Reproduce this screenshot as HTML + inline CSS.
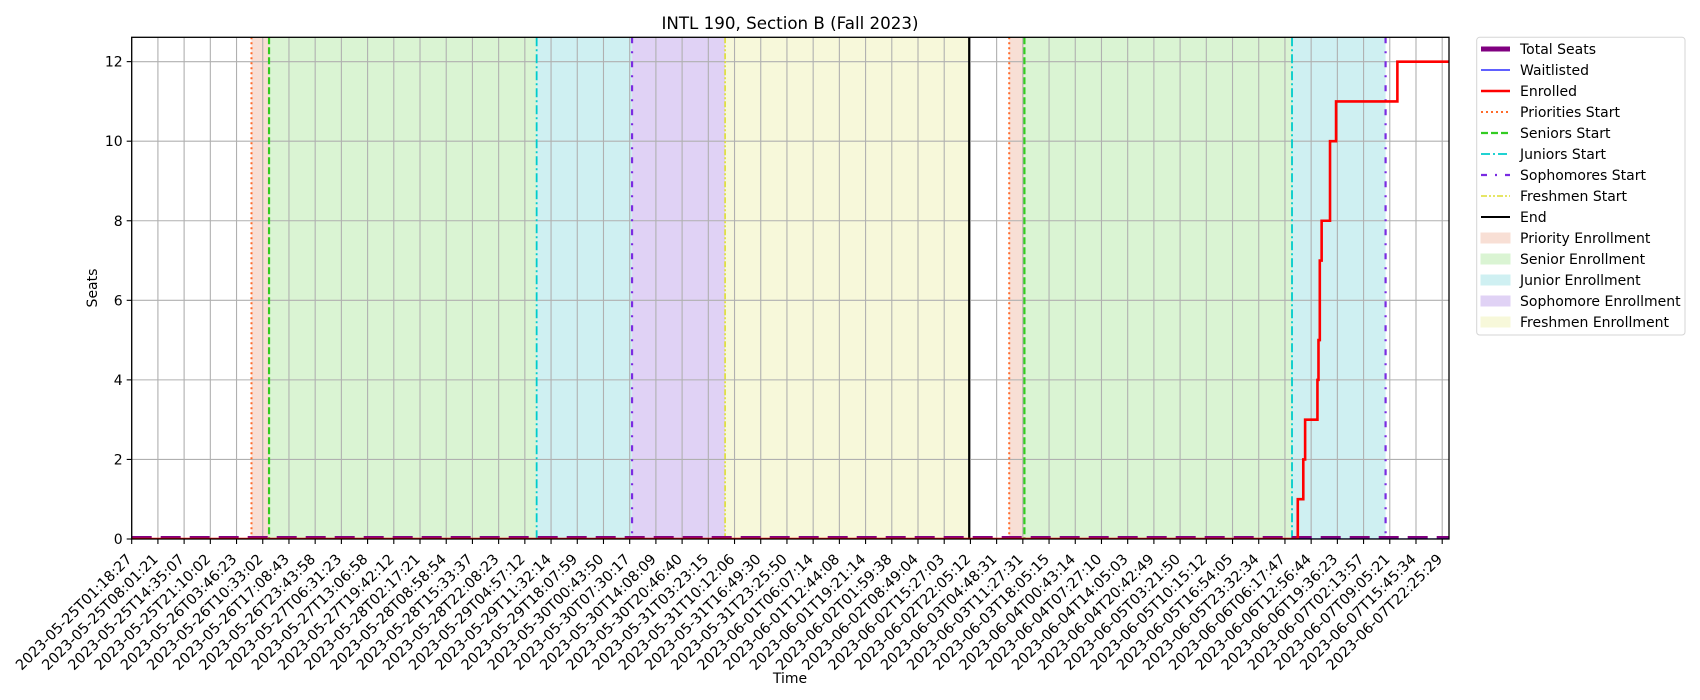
<!DOCTYPE html>
<html><head><meta charset="utf-8"><style>
body{margin:0;background:#fff}
svg{display:block;font-family:"DejaVu Sans","Liberation Sans",sans-serif}
</style></head><body>
<svg id="chart" width="1700" height="700" viewBox="0 0 1700 700">
<g id="spans"></g>
<g id="grid"></g>
<g id="vlines"></g>
<g id="series"></g>
<rect x="131.7" y="37.3" width="1317.3" height="501.7" fill="none" stroke="#000" stroke-width="1.3"/>
<g id="xticks"></g>
<g id="yticks"></g>
<text x="790" y="29" font-size="16.7" text-anchor="middle">INTL 190, Section B (Fall 2023)</text>
<text x="790" y="683" font-size="14" text-anchor="middle">Time</text>
<text x="0" y="0" font-size="14" text-anchor="middle" transform="translate(97,288) rotate(-90)">Seats</text>
<g id="legend"></g>
</svg>
<script>
const tickLabels=["2023-05-25T01:18:27","2023-05-25T08:01:21","2023-05-25T14:35:07","2023-05-25T21:10:02","2023-05-26T03:46:23","2023-05-26T10:33:02","2023-05-26T17:08:43","2023-05-26T23:43:58","2023-05-27T06:31:23","2023-05-27T13:06:58","2023-05-27T19:42:12","2023-05-28T02:17:21","2023-05-28T08:58:54","2023-05-28T15:33:37","2023-05-28T22:08:23","2023-05-29T04:57:12","2023-05-29T11:32:14","2023-05-29T18:07:59","2023-05-30T00:43:50","2023-05-30T07:30:17","2023-05-30T14:08:09","2023-05-30T20:46:40","2023-05-31T03:23:15","2023-05-31T10:12:06","2023-05-31T16:49:30","2023-05-31T23:25:50","2023-06-01T06:07:14","2023-06-01T12:44:08","2023-06-01T19:21:14","2023-06-02T01:59:38","2023-06-02T08:49:04","2023-06-02T15:27:03","2023-06-02T22:05:12","2023-06-03T04:48:31","2023-06-03T11:27:31","2023-06-03T18:05:15","2023-06-04T00:43:14","2023-06-04T07:27:10","2023-06-04T14:05:03","2023-06-04T20:42:49","2023-06-05T03:21:50","2023-06-05T10:15:12","2023-06-05T16:54:05","2023-06-05T23:32:34","2023-06-06T06:17:47","2023-06-06T12:56:44","2023-06-06T19:36:23","2023-06-07T02:13:57","2023-06-07T09:05:21","2023-06-07T15:45:34","2023-06-07T22:25:29"];
const yTicks=[0,2,4,6,8,10,12];
// x in tick-index units
const enrolledX=[0,44.49,44.70,44.77,45.24,45.28,45.33,45.40,45.72,45.95,48.29,50.26];
const enrolledY=[0,1,2,3,4,5,7,8,10,11,12,12];
const totalSeatsX=[0,50.26];
const totalSeatsY=[0,0];
const waitlistX=[0,50.26];
const waitlistY=[0,0];
const spanStarts=[4.57,5.24,15.45,19.09,22.64,33.48,34.06,44.27];
const spanEnds=[5.24,15.45,19.09,22.64,31.95,34.06,44.27,47.84];
const spanKinds=[0,1,2,3,4,0,1,2];
const lineX=[4.57,5.24,15.45,19.09,22.64,31.95,33.48,34.06,44.27,47.84];
const lineKinds=[0,1,2,3,4,5,0,1,2,3];

const X0=131.7,DX=26.21,Y0=539,DY=39.78,XR=1449,YT=37.3;
const sx=v=>X0+v*DX, sy=v=>Y0-v*DY;
const NS='http://www.w3.org/2000/svg';
function mk(tag,attrs,parent){const e=document.createElementNS(NS,tag);for(const k in attrs)e.setAttribute(k,attrs[k]);parent.appendChild(e);return e;}
const spanColors=['#f8dfd5','#daf4d3','#cff0f2','#e0d2f5','#f7f8da'];
const spanNames=['priority-enrollment-span','senior-enrollment-span','junior-enrollment-span','sophomore-enrollment-span','freshmen-enrollment-span'];
const lineStyles=[{c:'#ff6a2a',d:'2,3',w:2},{c:'#33cc22',d:'7,3',w:2.2},{c:'#00cccc',d:'9,3,2,3',w:1.8},{c:'#7a2be2',d:'6,8,2,8',w:2.2},{c:'#dddd33',d:'6,2,2,2,2,2',w:1.6},{c:'#000',d:'',w:2}];
const lineNames=['priorities-start-line','seniors-start-line','juniors-start-line','sophomores-start-line','freshmen-start-line','end-line'];

const gS=document.getElementById('spans');
spanStarts.forEach((s,i)=>{
 const r=mk('rect',{x:sx(s),y:YT,width:sx(spanEnds[i])-sx(s),height:Y0-YT,fill:spanColors[spanKinds[i]]},gS);
 
 
});
const gG=document.getElementById('grid'),gX=document.getElementById('xticks'),gY=document.getElementById('yticks');
tickLabels.forEach((t,i)=>{
 const x=sx(i);
 const l=mk('line',{x1:x,x2:x,y1:YT,y2:Y0,stroke:'#b0b0b0','stroke-width':1.1},gG);
 
 
 const tk=mk('line',{x1:x,x2:x,y1:Y0,y2:Y0+5,stroke:'#000','stroke-width':1.1},gX);
 
 
 const tx=mk('text',{'font-size':14.4,'text-anchor':'end',transform:`translate(${x+1},${Y0+21}) rotate(-45)`},gX);
 tx.textContent=t;
 
 
});
yTicks.forEach(v=>{
 const y=sy(v);
 const l=mk('line',{x1:X0,x2:XR,y1:y,y2:y,stroke:'#b0b0b0','stroke-width':1.1},gG);
 
 
 const tk=mk('line',{x1:X0-5,x2:X0,y1:y,y2:y,stroke:'#000','stroke-width':1.1},gY);
 
 
 const tx=mk('text',{x:X0-9,y:y+5,'font-size':14,'text-anchor':'end'},gY);
 tx.textContent=v;
 
 
});
const gV=document.getElementById('vlines');
lineX.forEach((v,i)=>{
 const st=lineStyles[lineKinds[i]];
 const l=mk('line',{x1:sx(v),x2:sx(v),y1:YT,y2:Y0,stroke:st.c,'stroke-width':st.w,'stroke-dasharray':st.d},gV);
 
 
});
const gSe=document.getElementById('series');
function stepPath(xs,ys){let d=`M${sx(xs[0])},${sy(ys[0])}`;for(let i=1;i<xs.length;i++){d+=`H${sx(xs[i])}V${sy(ys[i])}`;}return d;}
function linePath(xs,ys){return xs.map((x,i)=>(i?'L':'M')+sx(x)+','+sy(ys[i])).join('');}
const svgEl=document.getElementById('chart');
const cp=mk('clipPath',{id:'plotclip'},svgEl);
mk('rect',{x:X0,y:YT,width:XR-X0,height:Y0-YT},cp);
const ts=mk('path',{d:linePath(totalSeatsX,totalSeatsY),stroke:'#800080','stroke-width':6,fill:'none','stroke-dasharray':'20,9','clip-path':'url(#plotclip)'},gSe);


const wl=mk('path',{d:linePath(waitlistX,waitlistY),stroke:'#0000ff','stroke-width':1.2,fill:'none','clip-path':'url(#plotclip)'},gSe);


const en=mk('path',{d:stepPath(enrolledX,enrolledY),stroke:'#ff0000','stroke-width':2.6,fill:'none','clip-path':'url(#plotclip)'},gSe);



// legend
const gL=document.getElementById('legend');
const box=mk('rect',{x:1476.7,y:37.3,width:208.3,height:297.7,rx:3,fill:'#fff',stroke:'#d5d5d5','stroke-width':1},gL);


const legLabels=['Total Seats','Waitlisted','Enrolled','Priorities Start','Seniors Start','Juniors Start','Sophomores Start','Freshmen Start','End','Priority Enrollment','Senior Enrollment','Junior Enrollment','Sophomore Enrollment','Freshmen Enrollment'];
const legHandles=[{t:'l',c:'#800080',w:5,d:''},{t:'l',c:'#0000ff',w:1.2,d:''},{t:'l',c:'#ff0000',w:2.6,d:''}]
 .concat(lineStyles.map(s=>({t:'l',c:s.c,w:s.w,d:s.d})))
 .concat(spanColors.map(c=>({t:'r',c:c})));
legLabels.forEach((lab,i)=>{
 const y=49+i*21;
 const h=legHandles[i];
 const g=mk('g',{},gL);
 
 
 if(h.t==='l') mk('line',{x1:1481,x2:1510,y1:y,y2:y,stroke:h.c,'stroke-width':h.w,'stroke-dasharray':h.d},g);
 else mk('rect',{x:1481,y:y-5,width:29,height:10,fill:h.c,stroke:h.c},g);
 const t=mk('text',{x:1520,y:y+5,'font-size':14},g);
 t.textContent=lab;
});
</script>
</body></html>
